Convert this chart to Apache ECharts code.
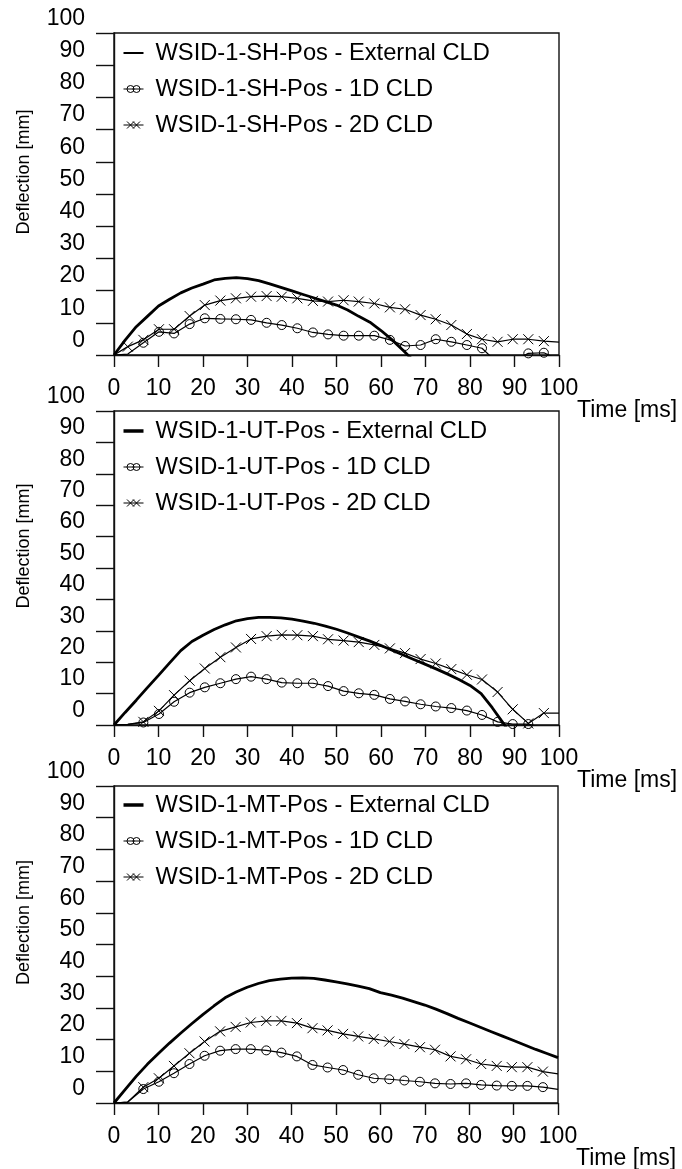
<!DOCTYPE html>
<html><head><meta charset="utf-8">
<script src="https://cdn.jsdelivr.net/npm/echarts@6/dist/echarts.min.js"></script>
<style>html,body{margin:0;padding:0;background:#fff}#c{width:682px;height:1169px}</style>
</head><body><div id="c"></div>
<script>
// ---- data ----
const TICK_VALUES = [0, 10, 20, 30, 40, 50, 60, 70, 80, 90, 100];
const X_NAME = 'Time [ms]';
const Y_NAME = 'Deflection [mm]';

// time stamps of the marker samples (1D / 2D CLD)
const MARK_T = [0, 3.1, 6.6, 10.1, 13.5, 17.0, 20.4, 23.9, 27.4, 30.8, 34.3, 37.7, 41.2, 44.7, 48.1, 51.6, 55.0, 58.5, 62.0, 65.4, 68.9, 72.3, 75.8, 79.3, 82.7, 86.2, 89.6, 93.1, 96.6, 100];
// time stamps of the external CLD curve
const EXT_T = [0,2.5,5,7.5,10,12.5,15,17.5,20,22.5,25,27.5,30,32.5,35,37.5,40,42.5,45,47.5,50,52.5,55,57.5,60,62.5,65,67.5,70,72.5,75,77.5,80,82.5,85,87.5,90,92.5,95,97.5,100];

const SH_NAMES = ['WSID-1-SH-Pos - External CLD', 'WSID-1-SH-Pos - 1D CLD', 'WSID-1-SH-Pos - 2D CLD'];
const SH_EXT = [0,4.6,8.8,12.0,15.2,17.3,19.3,20.8,22.0,23.3,23.8,24.0,23.7,23.1,22.1,21.0,19.9,18.8,17.7,16.6,15.5,14.0,12.0,10.2,7.6,4.7,1.4,-2.0,-5.5];
const SH_1D = [0,0.3,3.8,7.2,6.7,9.6,11.4,11.2,11.1,10.9,10.0,9.3,8.3,7.0,6.4,6.0,6.0,6.0,4.7,2.8,3.1,4.9,4.1,3.1,2.1,-2.5,-2.0,0.5,0.7,-1.5];
const SH_2D = [0,2.6,4.7,8.0,8.0,12.1,15.5,16.9,17.6,18.1,18.3,18.1,17.6,16.8,16.6,17.0,16.6,16.0,14.8,14.2,12.4,11.1,9.3,6.5,4.9,4.1,4.9,4.9,4.3,4.0];

const UT_NAMES = ['WSID-1-UT-Pos - External CLD', 'WSID-1-UT-Pos - 1D CLD', 'WSID-1-UT-Pos - 2D CLD'];
const UT_EXT = [0,4.0,7.9,11.9,15.8,19.8,23.7,26.6,28.6,30.4,31.9,33.2,33.9,34.3,34.3,34.1,33.7,33.1,32.4,31.5,30.5,29.3,28.0,26.7,25.3,23.8,22.3,20.8,19.3,17.8,16.2,14.5,12.6,10.0,5.5,0.5,-4.5];
const UT_1D = [0,0.2,0.8,3.5,7.4,10.3,12.0,13.3,14.6,15.4,14.6,13.5,13.3,13.3,12.4,10.8,10.1,9.6,8.3,7.5,6.6,5.9,5.4,4.6,3.2,1.0,0.3,0.3,-1.0,-1.5];
const UT_2D = [0,0.2,1.0,4.5,9.5,14.1,18.0,21.6,24.7,27.4,28.3,28.7,28.6,28.3,27.3,26.9,26.4,25.5,24.4,22.9,21.0,19.6,17.8,16.0,14.5,10.5,5.0,0.5,3.8,3.8];

const MT_NAMES = ['WSID-1-MT-Pos - External CLD', 'WSID-1-MT-Pos - 1D CLD', 'WSID-1-MT-Pos - 2D CLD'];
const MT_EXT = [0,4.2,8.4,12.2,15.6,18.9,22.0,25.0,27.9,30.6,33.2,35.0,36.5,37.7,38.6,39.1,39.4,39.5,39.3,38.8,38.2,37.6,36.9,36.1,34.8,34.0,33.1,32.0,30.9,29.6,28.2,26.7,25.3,23.9,22.5,21.1,19.7,18.3,16.9,15.6,14.3];
const MT_1D = [0,0.3,4.4,6.7,9.4,12.3,14.9,16.5,17.0,17.0,16.6,15.9,14.7,12.0,11.2,10.4,8.9,7.8,7.5,7.1,6.7,6.2,6.0,6.2,5.7,5.5,5.4,5.4,5.0,4.3];
const MT_2D = [0,0.3,5.0,7.8,11.7,15.7,19.4,22.6,24.0,25.4,25.9,25.9,25.2,23.6,22.9,21.8,21.0,20.2,19.4,18.6,17.6,16.8,14.7,13.8,12.3,11.7,11.3,11.3,9.9,9.2];

// ---- layout / style ----
const FONT = "'Liberation Sans', Arial, Helvetica, sans-serif";
const INK = '#111';
const panels = [
  {names: SH_NAMES, ext: SH_EXT, d1: SH_1D, d2: SH_2D, grid: {left:114, top:33, width:445, height:322}, legendTop: 40, extIcon: 2},
  {names: UT_NAMES, ext: UT_EXT, d1: UT_1D, d2: UT_2D, grid: {left:114, top:411, width:445, height:314}, legendTop: 418, extIcon: 3.5},
  {names: MT_NAMES, ext: MT_EXT, d1: MT_1D, d2: MT_2D, grid: {left:114, top:786, width:444, height:317}, legendTop: 792, extIcon: 3.5}
];
const X_SYMBOL = 'path://M0,0L10,10M0,10L10,0';
const ICON_1D = 'path://M0,5L20,5M3.5,5a3.5,3.5 0 1,0 7,0a3.5,3.5 0 1,0 -7,0M9.5,5a3.5,3.5 0 1,0 7,0a3.5,3.5 0 1,0 -7,0';
const ICON_2D = 'path://M0,5L20,5M3.5,1.5L10.5,8.5M3.5,8.5L10.5,1.5M9.5,1.5L16.5,8.5M9.5,8.5L16.5,1.5';

function markData(vals) {
  const last = vals.length - 1;
  return vals.map((v, i) => {
    const hide = i === 0 || i === last || (i === 1 && v < 1);
    return hide ? {value: [MARK_T[i], v], symbol: 'none'} : [MARK_T[i], v];
  });
}

const grids = [], xAxes = [], yAxes = [], series = [], legends = [];
const tMin = TICK_VALUES[0], tMax = TICK_VALUES[TICK_VALUES.length - 1], tStep = TICK_VALUES[1] - TICK_VALUES[0];

panels.forEach((p, i) => {
  grids.push(Object.assign({show: true, borderColor: INK, borderWidth: 1.4, backgroundColor: 'transparent', outerBoundsMode: 'none', containLabel: false}, p.grid));
  xAxes.push({
    type: 'value', gridIndex: i, min: tMin, max: tMax, interval: tStep,
    name: X_NAME, nameLocation: 'end', nameGap: 18, nameMoveOverlap: false,
    nameTextStyle: {fontFamily: FONT, fontSize: 23, color: '#000', align: 'left', verticalAlign: 'top', padding: [44, 0, 0, 0]},
    axisLine: {show: true, onZero: false, lineStyle: {color: INK, width: 1.4}},
    axisTick: {show: true, inside: false, length: 12, lineStyle: {color: INK, width: 1.4}},
    axisLabel: {fontFamily: FONT, fontSize: 23, color: '#000', margin: 22, showMinLabel: true, showMaxLabel: true, hideOverlap: false},
    splitLine: {show: false}
  });
  yAxes.push({
    type: 'value', gridIndex: i, min: tMin, max: tMax, interval: tStep,
    name: Y_NAME, nameLocation: 'middle', nameGap: 81, nameMoveOverlap: false,
    nameTextStyle: {fontFamily: FONT, fontSize: 18, color: '#000', padding: [0, 0, 0, 44]},
    axisLine: {show: true, onZero: false, lineStyle: {color: INK, width: 1.4}},
    axisTick: {show: true, inside: false, length: 18, lineStyle: {color: INK, width: 1.4}},
    axisLabel: {fontFamily: FONT, fontSize: 23, color: '#000', margin: 29, verticalAlign: 'bottom', lineHeight: 23, padding: [0, 0, 3, 0], showMinLabel: true, showMaxLabel: true, hideOverlap: false},
    splitLine: {show: false}
  });
  series.push({
    type: 'line', name: p.names[0], xAxisIndex: i, yAxisIndex: i, clip: true, z: 4,
    data: p.ext.map((v, j) => [EXT_T[j], v]),
    symbol: 'none', lineStyle: {color: '#000', width: 2.8}, itemStyle: {color: '#000'}
  });
  series.push({
    type: 'line', name: p.names[1], xAxisIndex: i, yAxisIndex: i, clip: true, z: 3,
    data: markData(p.d1), showAllSymbol: true,
    symbol: 'circle', symbolSize: 9,
    lineStyle: {color: '#000', width: 1.2},
    itemStyle: {color: 'transparent', borderColor: '#000', borderWidth: 1}
  });
  series.push({
    type: 'line', name: p.names[2], xAxisIndex: i, yAxisIndex: i, clip: true, z: 3,
    data: markData(p.d2), showAllSymbol: true,
    symbol: X_SYMBOL, symbolSize: 10,
    lineStyle: {color: '#000', width: 1.2},
    itemStyle: {color: 'transparent', borderColor: '#000', borderWidth: 1}
  });
  legends.push({
    orient: 'vertical', left: 123, top: p.legendTop, itemWidth: 20, itemHeight: 8, itemGap: 10,
    selectedMode: false, padding: 0,
    textStyle: {fontFamily: FONT, fontSize: 23.7, lineHeight: 26, color: '#000', padding: [0, 0, 0, 7]},
    data: [
      {name: p.names[0], icon: 'path://M0,0L20,0L20,' + p.extIcon + 'L0,' + p.extIcon + 'Z', itemStyle: {color: '#000', borderWidth: 0}},
      {name: p.names[1], icon: ICON_1D, itemStyle: {color: 'transparent', borderColor: '#000', borderWidth: 1}},
      {name: p.names[2], icon: ICON_2D, itemStyle: {color: 'transparent', borderColor: '#000', borderWidth: 1}}
    ]
  });
});

const chart = echarts.init(document.getElementById('c'), null, {renderer: 'canvas'});
chart.setOption({
  animation: false,
  backgroundColor: '#fff',
  textStyle: {fontFamily: FONT},
  grid: grids, xAxis: xAxes, yAxis: yAxes, legend: legends, series: series
});
</script></body></html>
